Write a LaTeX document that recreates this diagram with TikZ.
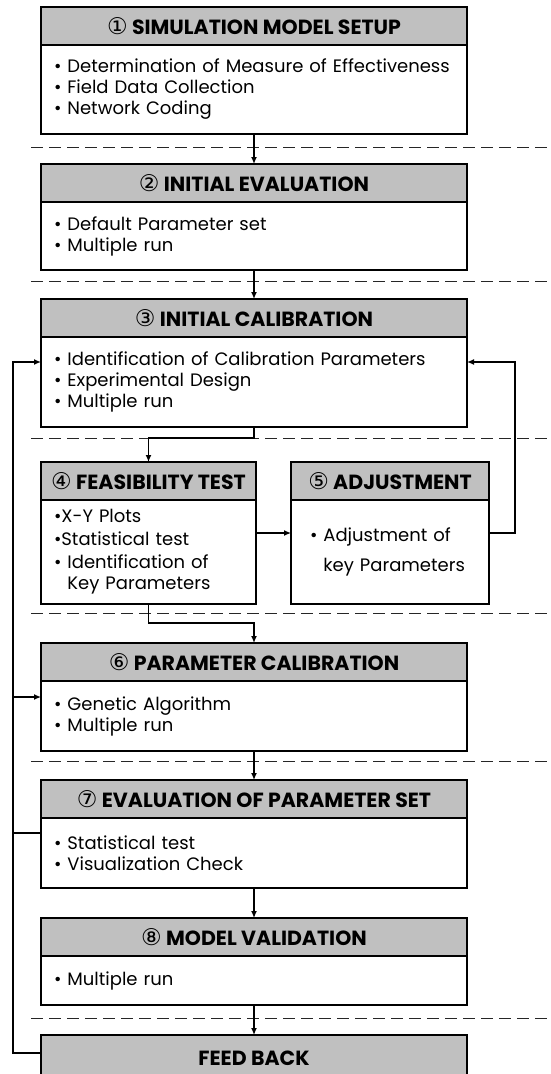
\documentclass[tikz,border=0pt]{standalone}
\usepackage{fontspec}
\setmainfont{Poppins}
\newfontfamily\circfont{DejaVu Sans}
\usetikzlibrary{arrows.meta,positioning,calc}
\definecolor{boxgray}{RGB}{192,192,192}
\newcommand\cnum[1]{{\circfont\mdseries\fontsize{23}{21}\selectfont #1}}
\tikzset{
	head/.style={draw,line width=1.6pt,fill=boxgray,minimum height=38pt,inner sep=0pt,outer sep=0pt,anchor=north,font=\bfseries\fontsize{20.5}{21}\selectfont},
	body/.style={draw,line width=1.6pt,fill=white,inner xsep=13pt,inner ysep=0pt,outer sep=0pt,below=0pt of #1,align=left,font=\fontsize{18}{21}\selectfont},
	arr/.style={line width=1.3pt,-{Latex[length=7pt,width=6pt]}},
	lnk/.style={line width=1.3pt},
	sep/.style={dash pattern=on 12pt off 6pt,line width=1pt,black!85},
}

\begin{document}
\begin{tikzpicture}[x=1pt,y=-1pt]
		\useasboundingbox (0,0) rectangle (551,1074);
		\clip (0,0) rectangle (551,1074);
		\foreach \y in {147,281,438,613,761,1018}
			\draw[sep] (31,\y) -- (560,\y);
		\node[head,minimum width=426pt] (setuph) at (254,7) {\cnum{①} SIMULATION MODEL SETUP};
		\node[body=setuph,text width=400pt,minimum height=89pt] (setupb) {• Determination of Measure of Effectiveness\\ • Field Data Collection\\ • Network Coding};
		\node[head,minimum width=426pt] (evalh) at (254,164) {\cnum{②} INITIAL EVALUATION};
		\node[body=evalh,text width=400pt,minimum height=68pt] (evalb) {• Default Parameter set\\ • Multiple run};
		\node[head,minimum width=426pt] (calh) at (254,299) {\cnum{③} INITIAL CALIBRATION};
		\node[body=calh,text width=400pt,minimum height=90pt] (calb) {• Identification of Calibration Parameters\\ • Experimental Design\\ • Multiple run};
		\node[head,minimum width=215pt] (feash) at (148.5,462) {\cnum{④} FEASIBILITY TEST};
		\node[body=feash,text width=189pt,minimum height=104pt] (feasb) {•X-Y Plots\\[2pt] •Statistical test\\[2pt] • Identification of\\ \phantom{• }Key Parameters};
		\node[head,minimum width=198pt] (adjh) at (390,462) {\cnum{⑤} ADJUSTMENT};
		\node[body=adjh,inner xsep=19pt,text width=160pt,minimum height=104pt] (adjb) {• Adjustment of\\[9pt] \phantom{• }key Parameters};
		\node[head,minimum width=426pt] (parh) at (254,643) {\cnum{⑥} PARAMETER CALIBRATION};
		\node[body=parh,text width=400pt,minimum height=70pt] (parb) {• Genetic Algorithm\\ • Multiple run};
		\node[head,minimum width=426pt] (evph) at (254,780) {\cnum{⑦} EVALUATION OF PARAMETER SET};
		\node[body=evph,text width=400pt,minimum height=70pt] (evpb) {• Statistical test\\ • Visualization Check};
		\node[head,minimum width=426pt] (valh) at (254,918) {\cnum{⑧} MODEL VALIDATION};
		\node[body=valh,text width=400pt,minimum height=49pt] (valb) {• Multiple run};
		\node[head,minimum width=426pt,minimum height=46pt] (feedh) at (254,1035) {FEED BACK};
		\coordinate (callev) at (0,362);
		\coordinate (adjlev) at (0,533);
		\coordinate (parlev) at (0,697);
		\coordinate (evplev) at (0,833);
		\coordinate (fbx) at (13,1053);
		\draw[arr] (setupb) -- (evalh);
		\draw[arr] (evalb) -- (calh);
		\draw[arr] (calb.south) -- ++(0,11) -| (feash.north);
		\draw[arr] (feasb.east |- adjlev) -- (adjb.west |- adjlev);
		\draw[arr] (adjb.east |- adjlev) -- ++(26,0) |- (calb.east |- callev);
		\draw[arr] (feasb.south) -- ++(0,19) -| (parh.north);
		\draw[arr] (parb) -- (evph);
		\draw[arr] (evpb) -- (valh);
		\draw[arr] (valb) -- (feedh);
		\draw[arr] (feedh.west |- fbx) -- (fbx) |- (calb.west |- callev);
		\draw[arr] (fbx |- parlev) -- (parb.west |- parlev);
		\draw[lnk] (evpb.west |- evplev) -- (fbx |- evplev);
\end{tikzpicture}
\end{document}
